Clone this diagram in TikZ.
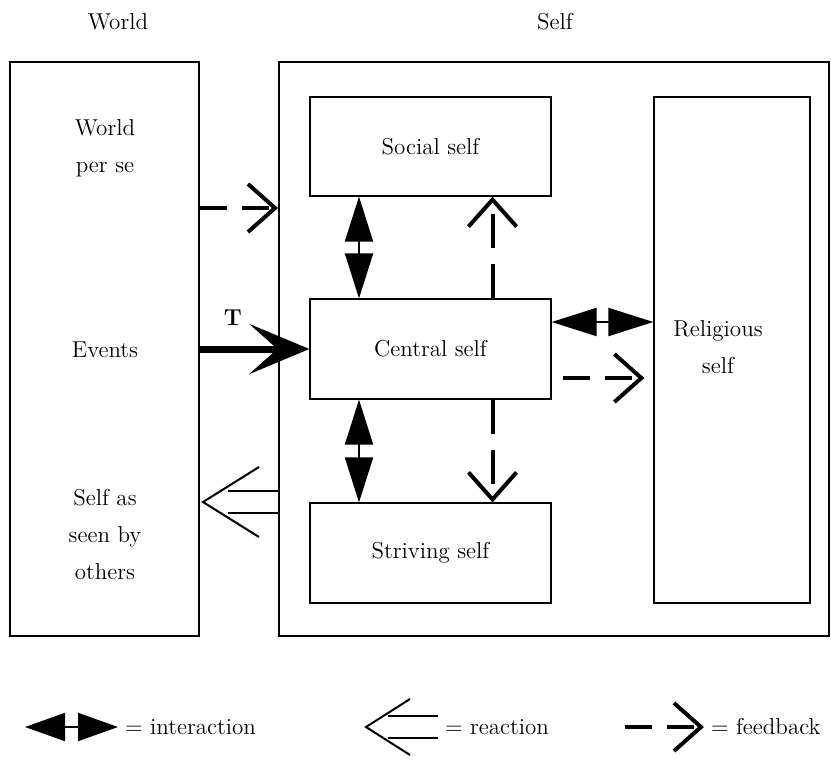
\documentclass[tikz,border=0pt]{standalone}
\usetikzlibrary{arrows.meta,positioning}
\tikzset{
  frame/.style={draw, line width=1pt, inner sep=0pt},
  box/.style={draw, line width=0.6pt, inner sep=0pt, align=center},
  txt/.style={align=center},
  feedback/.style={line width=2pt, dash pattern=on 13.5pt off 7.5pt, -{Straight Barb[length=13.5pt,width=24pt]}},
  interaction/.style={line width=1pt, {Triangle[length=22.5pt,width=14pt]}-{Triangle[length=22.5pt,width=14pt]}},
  legendinteraction/.style={line width=1pt, {Triangle[length=20pt,width=14pt]}-{Triangle[length=20pt,width=14pt]}},
  event/.style={line width=3.5pt, -{Stealth[length=30pt,width=25pt,inset=14pt]}},
  reaction/.style={line width=1pt, miter limit=20},
}
\begin{document}
\begin{tikzpicture}[x=0.5pt,y=-0.5pt,font=\fontsize{11.5}{18.5}\selectfont]
    \useasboundingbox (0,0) rectangle (831,762);
    % Frames and titles
    \node[frame, minimum width=94.5pt, minimum height=287pt] (world) at (104.5,349) {};
    \node[frame, minimum width=275pt, minimum height=287pt] (selfbox) at (554,349) {};
    \node (worldtitle) at (118,22) {World};
    \node (selftitle) at (555,22) {Self};
    % World side
    \node[txt] (perse) at (105,148) {World\\per se};
    \node[txt] (events) at (105,350) {Events};
    \node[txt] (others) at (105,535) {Self as\\seen by\\others};
    % Self side
    \node[box, minimum width=120.5pt, minimum height=49.5pt] (social) at (430.5,146.5) {Social self};
    \node[box, minimum width=120.5pt, minimum height=50pt] (central) at (430.5,349) {Central self};
    \node[box, minimum width=120.5pt, minimum height=50pt] (striving) at (430.5,553) {Striving self};
    \node[box, minimum width=78pt, minimum height=253pt] (religious) at (732,350) {};
    \node[txt] (religioustext) at (718,347) {Religious\\self};
    % Events into the central self
    \draw[event] (world.east) -- (central.west) node[pos=0.3, yshift=15.5pt] (tlabel) {\textbf{T}};
    % Interactions
    \draw[interaction] ([xshift=-35.75pt]central.north) -- ([xshift=-35.75pt]social.south);
    \draw[interaction] ([xshift=-35.75pt]central.south) -- ([xshift=-35.75pt]striving.north);
    \coordinate (ia) at ([yshift=13.5pt]central.east);
    \draw[interaction] (ia) -- (ia -| religious.west);
    % Feedback
    \coordinate (fa) at ([yshift=70.5pt]world.east);
    \draw[feedback] (fa) -- (fa -| selfbox.west);
    \coordinate (fb) at ([xshift=5.5pt,yshift=-14.5pt]central.east);
    \coordinate (fc) at (fb -| religious.west);
    \draw[feedback] (fb) -- ([xshift=-4.5pt]fc);
    \draw[feedback, dash pattern=on 17pt off 8pt] ([xshift=31pt]central.north) -- ([xshift=31pt]social.south);
    \draw[feedback, dash pattern=on 17pt off 8pt] ([xshift=31pt]central.south) -- ([xshift=31pt]striving.north);
    % Reaction
    \coordinate (rtip) at (203,502);
    \draw[reaction, double, double distance=10pt] (selfbox.west |- rtip) -- ++(-50,0);
    \draw[reaction] (rtip) ++(56,-35) -- (rtip) -- ++(56,35);
    % Legend
    \node[anchor=west] (linter) at (118,727) {= interaction};
    \draw[legendinteraction] ([xshift=-46.5pt]linter.west) -- (linter.west);
    \node[anchor=west] (lreact) at (438,727) {= reaction};
    \coordinate (ltip) at ([xshift=-36pt]lreact.west);
    \draw[reaction, double, double distance=10pt] (lreact.west) -- ++(-50,0);
    \draw[reaction] (ltip) ++(44,-28) -- (ltip) -- ++(44,28);
    \node[anchor=west] (lfeed) at (704,727) {= feedback};
    \draw[feedback] ([xshift=-39.5pt]lfeed.west) -- (lfeed.west);
\end{tikzpicture}
\end{document}
